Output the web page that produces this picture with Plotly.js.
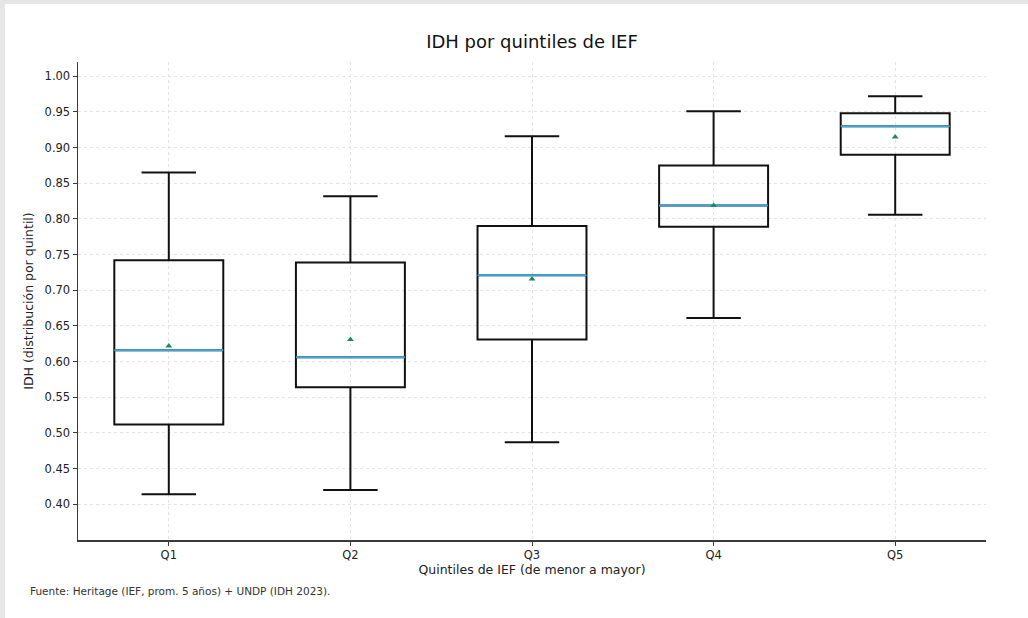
<!DOCTYPE html>
<html>
<head>
<meta charset="utf-8">
<script src="https://cdn.plot.ly/plotly-3.0.1.min.js"></script>
<style>
  html, body { margin: 0; padding: 0; background: #ffffff; }
  #wrap { position: relative; width: 1028px; height: 618px; overflow: hidden; }
  #chart { position: absolute; left: 0; top: 0; width: 1028px; height: 618px; }
  .bar-left { position: absolute; left: 0; top: 0; width: 5px; height: 618px; background: #e6e6e6; z-index: 5; }
  .bar-top { position: absolute; left: 0; top: 0; width: 1028px; height: 4px; background: #e6e6e6; z-index: 5; }
</style>
</head>
<body>
<div id="wrap">
  <div id="chart"></div>
  <div class="bar-left"></div>
  <div class="bar-top"></div>
</div>
<script>
const categories = ["Q1", "Q2", "Q3", "Q4", "Q5"];
const lowerWhisker = [0.414, 0.420, 0.487, 0.661, 0.806];
const q1Values = [0.512, 0.564, 0.631, 0.789, 0.890];
const medianValues = [0.616, 0.606, 0.721, 0.819, 0.930];
const q3Values = [0.742, 0.739, 0.790, 0.875, 0.948];
const upperWhisker = [0.865, 0.832, 0.916, 0.951, 0.972];
const meanValues = [0.622, 0.631, 0.716, 0.819, 0.915];

const titleText = "IDH por quintiles de IEF";
const xTitle = "Quintiles de IEF (de menor a mayor)";
const yTitle = "IDH (distribución por quintil)";
const sourceNote = "Fuente: Heritage (IEF, prom. 5 años) + UNDP (IDH 2023).";

const FONT = "DejaVu Sans, sans-serif";

const boxTrace = {
  type: "box",
  x: categories,
  q1: q1Values,
  median: medianValues,
  q3: q3Values,
  lowerfence: lowerWhisker,
  upperfence: upperWhisker,
  width: 0.6,
  whiskerwidth: 0.5,
  line: { color: "#111111", width: 2 },
  fillcolor: "rgba(255,255,255,0)",
  boxpoints: false,
  hoverinfo: "skip",
  showlegend: false
};

// median line overlay (blue), drawn as a zero-height box at each median
const medianTrace = {
  type: "box",
  x: categories,
  q1: medianValues,
  median: medianValues,
  q3: medianValues,
  lowerfence: medianValues,
  upperfence: medianValues,
  width: 0.6,
  whiskerwidth: 0,
  line: { color: "#3fa9d8", width: 2 },
  fillcolor: "rgba(255,255,255,0)",
  boxpoints: false,
  hoverinfo: "skip",
  showlegend: false
};

const meanTrace = {
  type: "scatter",
  mode: "markers",
  x: categories,
  y: meanValues,
  marker: { symbol: "triangle-up", size: 6, color: "#1e8a5e" },
  hoverinfo: "skip",
  showlegend: false
};

const layout = {
  width: 1028,
  height: 618,
  paper_bgcolor: "#ffffff",
  plot_bgcolor: "#ffffff",
  margin: { l: 78, r: 42, t: 62, b: 78 },
  font: { family: FONT, color: "#222222", size: 12 },
  boxmode: "overlay",
  title: {
    text: titleText,
    font: { family: FONT, size: 18, color: "#111111" },
    x: 0.5, xref: "paper", xanchor: "center",
    y: 0.932, yref: "container", yanchor: "middle"
  },
  xaxis: {
    type: "category",
    range: [-0.5, 4.5],
    showline: true, linecolor: "#3a3a3a", linewidth: 1.5,
    ticks: "outside", ticklen: 4, tickcolor: "#3a3a3a",
    showgrid: true, gridcolor: "#e3e3e3", griddash: "dot", gridwidth: 1,
    zeroline: false,
    tickfont: { family: FONT, size: 11.5, color: "#222222" },
    title: { text: xTitle, standoff: 4, font: { family: FONT, size: 12.5, color: "#222222" } }
  },
  yaxis: {
    range: [0.35, 1.02],
    tickvals: [0.40, 0.45, 0.50, 0.55, 0.60, 0.65, 0.70, 0.75, 0.80, 0.85, 0.90, 0.95, 1.00],
    tickformat: ".2f",
    showline: true, linecolor: "#3a3a3a", linewidth: 1.5,
    ticks: "outside", ticklen: 4, tickcolor: "#3a3a3a",
    showgrid: true, gridcolor: "#e3e3e3", griddash: "dot", gridwidth: 1,
    zeroline: false,
    tickfont: { family: FONT, size: 11.5, color: "#222222" },
    title: { text: yTitle, standoff: 8, font: { family: FONT, size: 12.5, color: "#222222" } }
  },
  annotations: [
    {
      text: sourceNote,
      xref: "paper", yref: "paper",
      x: -0.055, y: -0.107,
      xanchor: "left", yanchor: "middle",
      showarrow: false,
      font: { family: FONT, size: 10.5, color: "#333333" }
    }
  ]
};

Plotly.newPlot("chart", [boxTrace, medianTrace, meanTrace], layout, { displayModeBar: false, staticPlot: true });
</script>
</body>
</html>
